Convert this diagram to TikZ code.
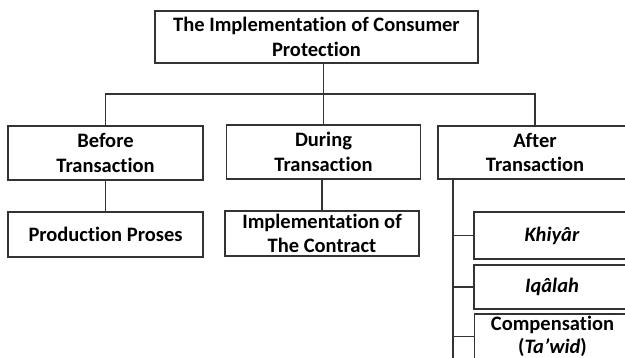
\documentclass[tikz,border=0pt]{standalone}
\usepackage{fontspec}
\setmainfont[Ligatures=NoCommon]{Carlito}
\begin{document}
\begin{tikzpicture}[x=1pt,y=-1pt]
    \tikzset{
        box/.style={draw=black!80,line width=1.2pt,fill=white,align=center,inner sep=0pt,
            font=\fontsize{20.5}{24.5}\selectfont\bfseries},
        link/.style={draw=black!80,line width=1.1pt}
    }
    \useasboundingbox (0,0) rectangle (625,358);
    \node[box,minimum width=323pt,minimum height=52pt] (top) at (316.5,37) {The Implementation of Consumer\\Protection};
    \node[box,minimum width=195pt,minimum height=54pt] (bef) at (105.5,153) {Before\\Transaction};
    \node[box,minimum width=194pt,minimum height=54pt] (dur) at (323.5,152) {During\\Transaction};
    \node[box,minimum width=194pt,minimum height=53pt] (aft) at (535,152.5) {After\\Transaction};
    \node[box,minimum width=195pt,minimum height=45pt] (prod) at (105.5,234.5) {Production Proses};
    \node[box,minimum width=194pt,minimum height=45pt] (impl) at (322,233.5) {Implementation of\\The Contract};
    \node[box,minimum width=156pt,minimum height=47pt] (khi) at (552,235.5) {\textit{Khiyâr}};
    \node[box,minimum width=156pt,minimum height=44pt] (iqa) at (552,287) {\textit{Iqâlah}};
    \node[box,minimum width=156pt,minimum height=45pt,font=\fontsize{20.5}{22.5}\selectfont\bfseries] (comp) at (552.5,336.5) {Compensation\\(\textit{Ta’wid})};
    \coordinate (mid) at (323.5,94);
    \coordinate (trunk) at (453,365);
    \draw[link] (top.south -| mid) -- (dur.north);
    \draw[link] (bef.north) |- (mid) -| (aft.north);
    \draw[link] (bef.south) -- (prod.north);
    \draw[link] (dur.south -| impl.north) -- (impl.north);
    \draw[link] (aft.south -| trunk) -- (trunk);
    \draw[link] (khi.west -| trunk) -- (khi.west);
    \draw[link] (iqa.west -| trunk) -- (iqa.west);
    \draw[link] (comp.west -| trunk) -- (comp.west);
\end{tikzpicture}
\end{document}
